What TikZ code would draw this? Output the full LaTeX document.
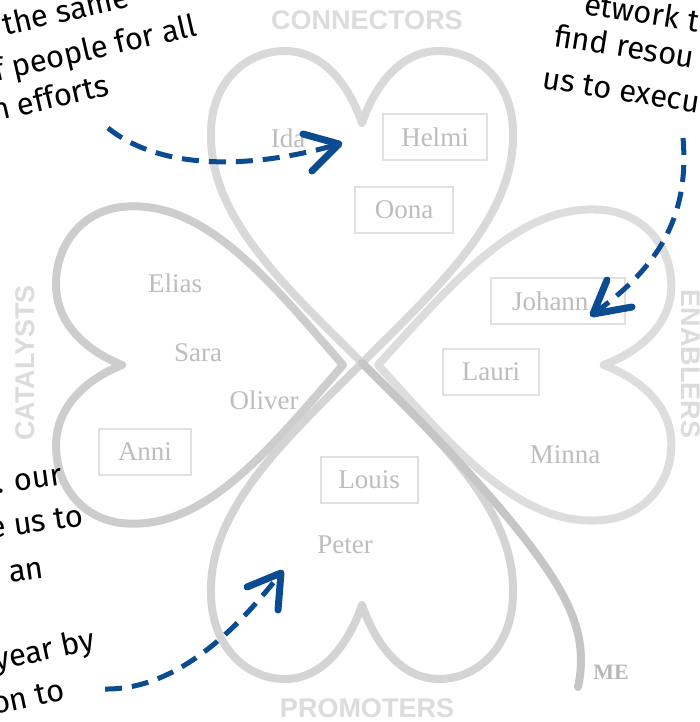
\documentclass[tikz,border=0pt]{standalone}
\usepackage{fontspec}
\setmainfont{Liberation Serif}
\newfontfamily\catfont{Liberation Sans}
\newfontfamily\handfont{Fira Sans}
\definecolor{topc}{HTML}{D9D9D9}
\definecolor{leftc}{HTML}{CDCDCD}
\definecolor{rightc}{HTML}{DDDDDD}
\definecolor{botc}{HTML}{D4D4D4}
\definecolor{stemc}{HTML}{C6C6C6}
\definecolor{namec}{HTML}{BDBDBD}
\definecolor{boxc}{HTML}{E0E0E0}
\definecolor{catc}{HTML}{DCDCDC}
\definecolor{mec}{HTML}{B8B8B8}
\definecolor{bluec}{HTML}{0A4B91}
\tikzset{
  heartline/.style={line width=8pt, line join=round, line cap=round},
  namebox/.style={draw=boxc, line width=2pt, inner sep=0pt, text=namec,
    font=\fontsize{27}{27}\selectfont, minimum height=46pt},
  plainname/.style={text=namec, inner sep=0pt, font=\fontsize{27}{27}\selectfont},
  catlabel/.style={text=catc, inner sep=0pt, font=\catfont\bfseries\fontsize{27}{27}\selectfont},
  hand/.style={font=\handfont\fontsize{31}{34}\selectfont, anchor=base west, inner sep=0pt, text=black},
  blueline/.style={draw=bluec, line width=5pt, dash pattern=on 17pt off 10pt},
  chevron/.style={draw=bluec, line width=7pt, line cap=round, line join=round}
}
\begin{document}
\begin{tikzpicture}[x=1pt,y=-1pt]
\useasboundingbox (0,0) rectangle (699,722);
\fill[white] (0,0) rectangle (699,722);
\clip (0,0) rectangle (699,722);

% hearts
\draw[heartline, draw=leftc] (343,365) .. controls (274,286) and (209.6,204.3) .. (131.4,206.4)
  .. controls (85.4,206.4) and (56,242.1) .. (56,284.1)
  .. controls (56,326.2) and (90,352.4) .. (122.2,365)
  .. controls (90,377.6) and (56,403.9) .. (56,445.9)
  .. controls (56,487.9) and (85.4,523.6) .. (131.4,523.6)
  .. controls (209.6,525.7) and (274,443.8) .. (343,365);
\draw[heartline, draw=rightc] (378,365) .. controls (448.5,287.75) and (514.3,207.4) .. (594.2,209.5)
  .. controls (641.2,209.5) and (671.3,244.5) .. (671.3,285.7)
  .. controls (671.3,326.9) and (636.5,352.6) .. (603.6,365)
  .. controls (636.5,377.4) and (671.3,403.1) .. (671.3,444.3)
  .. controls (671.3,485.5) and (641.2,520.5) .. (594.2,520.5)
  .. controls (514.3,522.6) and (448.5,442.25) .. (378,365);
\draw[heartline, draw=topc] (362,363) .. controls (287,288) and (209,218) .. (211,133)
  .. controls (211,83) and (245,51) .. (285,51)
  .. controls (325,51) and (350,88) .. (362,123)
  .. controls (374,88) and (399,51) .. (439,51)
  .. controls (479,51) and (513,83) .. (513,133)
  .. controls (515,218) and (437,288) .. (362,363);
\draw[heartline, draw=botc] (362,363) .. controls (287,438) and (209,508) .. (211,593)
  .. controls (211,645) and (245,679) .. (285,679)
  .. controls (325,679) and (350,640) .. (362,605)
  .. controls (374,640) and (399,679) .. (439,679)
  .. controls (479,679) and (513,645) .. (513,593)
  .. controls (515,508) and (437,438) .. (362,363);
% stem
\coordinate (stemtop) at (362,363);
\coordinate (stemend) at (578,687);
\draw[heartline, draw=stemc] (stemtop) .. controls (420,420) and (520,520) .. (560,590)
  .. controls (580,625) and (585,655) .. (stemend);
\node[text=mec, inner sep=0pt, font=\bfseries\fontsize{22}{22}\selectfont] (me) at (611,672) {ME};

% category labels
\node[catlabel] (conn) at (367,20) {CONNECTORS};
\node[catlabel] (prom) at (367,708) {PROMOTERS};
\node[catlabel, rotate=90] (cata) at (25,363) {CATALYSTS};
\node[catlabel, rotate=-90] (enab) at (691,364) {ENABLERS};

% names
\node[plainname] (ida) at (288,138) {Ida};
\node[namebox, minimum width=104pt] (helmi) at (435,137) {Helmi};
\node[namebox, minimum width=98pt] (oona) at (404,210) {Oona};
\node[plainname] (elias) at (175,283) {Elias};
\node[plainname] (sara) at (198,353) {Sara};
\node[plainname] (oliver) at (264,400) {Oliver};
\node[namebox, minimum width=92pt] (anni) at (145,452) {Anni};
\node[namebox, minimum width=134pt, text width=92pt, align=left] (johann) at (558,301) {Johann};
\node[namebox, minimum width=96pt] (lauri) at (491,372) {Lauri};
\node[plainname] (minna) at (565,455) {Minna};
\node[namebox, minimum width=97pt] (louis) at (369,480) {Louis};
\node[plainname] (peter) at (345,545) {Peter};

% handwritten notes
\node[hand, rotate=13] (t1a) at (-14,40) {t the same};
\node[hand, rotate=13] (t1b) at (-4,82) {f people for all};
\node[hand, rotate=13] (t1c) at (-6,122) {n efforts};
\node[hand, rotate=-9] (t2a) at (583,14) {etwork t};
\node[hand, rotate=-9] (t2b) at (553,46) {find resou};
\node[hand, rotate=-9] (t2c) at (541,88) {us to execu};
\node[hand, rotate=8] (t3a) at (-3,494) {. our};
\node[hand, rotate=8] (t3b) at (-10,539) {e us to};
\node[hand, rotate=8] (t3c) at (10,583) {an};
\node[hand, rotate=12] (t4a) at (-4,671) {year by};
\node[hand, rotate=12] (t4b) at (-6,715) {on to};

% blue arrows
\coordinate (a1s) at (108,128); \coordinate (a1t) at (339,144);
\coordinate (a1l) at (303,134); \coordinate (a1r) at (312,171);
\draw[blueline] (a1s) .. controls (160,170) and (250,170) .. (a1t);
\draw[chevron] (a1l) -- (a1t) -- (a1r);

\coordinate (a2s) at (683,138); \coordinate (a2t) at (593,314);
\coordinate (a2l) at (632,307); \coordinate (a2r) at (607,280);
\draw[blueline] (a2s) .. controls (690,220) and (655,270) .. (a2t);
\draw[chevron] (a2l) -- (a2t) -- (a2r);

\coordinate (a3s) at (105,689); \coordinate (a3t) at (281,573);
\coordinate (a3l) at (247,587); \coordinate (a3r) at (278,610);
\draw[blueline] (a3s) .. controls (180,690) and (242,623) .. (a3t);
\draw[chevron] (a3l) -- (a3t) -- (a3r);
\end{tikzpicture}
\end{document}
